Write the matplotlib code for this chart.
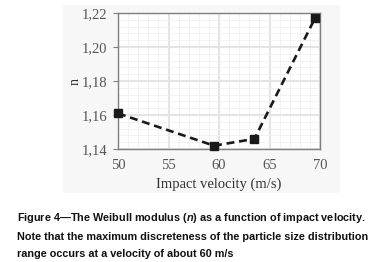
import matplotlib
matplotlib.use("Agg")
import matplotlib.pyplot as plt
from matplotlib.patches import Rectangle
from matplotlib.ticker import MultipleLocator, FuncFormatter

plt.rcParams["mathtext.fontset"] = "custom"
plt.rcParams["mathtext.it"] = "Liberation Sans:italic:bold"
plt.rcParams["mathtext.rm"] = "Liberation Sans:bold"

# Dados
velocidade = [50.0, 59.5, 63.5, 69.5]
modulo_n = [1.161, 1.142, 1.146, 1.217]
legenda = ("Figure 4\u2014The Weibull modulus ($n$) as a function of impact velocity.\n"
           "Note that the maximum discreteness of the particle size distribution\n"
           "range occurs at a velocity of about 60 m/s")

fig = plt.figure(figsize=(3.87, 2.62), dpi=100)
fig.patches.append(Rectangle((0.163, 0.263), 0.716, 0.718, transform=fig.transFigure,
                             facecolor="#f7f7f7", edgecolor="none", zorder=-5))

ax = fig.add_axes([0.305, 0.431, 0.522, 0.519])
ax.set_zorder(2)
ax.set_facecolor("white")
ax.plot(velocidade, modulo_n, "--s", color="#1a1a1a", lw=1.9, ms=5.5, dashes=(3, 1.8), clip_on=False, zorder=3)

ax.set_xlim(50, 70)
ax.set_ylim(1.14, 1.22)
ax.xaxis.set_major_locator(MultipleLocator(5))
ax.xaxis.set_minor_locator(MultipleLocator(1))
ax.yaxis.set_major_locator(MultipleLocator(0.02))
ax.yaxis.set_minor_locator(MultipleLocator(0.004))
ax.yaxis.set_major_formatter(FuncFormatter(lambda v, p: f"{v:.2f}".replace(".", ",")))
ax.grid(which="major", color="#e4e4e4", lw=1.5)
ax.grid(which="minor", color="#f0f0f0", lw=0.6)
ax.set_axisbelow(True)

for s in ax.spines.values():
    s.set_color("#7f7f7f")
    s.set_linewidth(1.0)
ax.tick_params(which="both", length=0)
ax.tick_params(axis="x", which="major", pad=7)
ax.tick_params(axis="y", which="major", length=3.5, color="#7f7f7f", pad=4)
for lab in ax.get_xticklabels() + ax.get_yticklabels():
    lab.set_family("Liberation Serif")
    lab.set_fontsize(10.5)
    lab.set_color("#555555")

ax.set_xlabel("Impact velocity (m/s)", family="Liberation Serif", fontsize=10.5, color="#333333", labelpad=4)
ax.set_ylabel("n", family="Liberation Serif", fontsize=10, color="#333333", labelpad=0)

fig.text(0.045, 0.193, legenda, family="Liberation Sans", weight="bold", fontsize=7.8,
         va="top", ha="left", linespacing=1.82, color="#111111")

fig.savefig("out.png", dpi=100)
